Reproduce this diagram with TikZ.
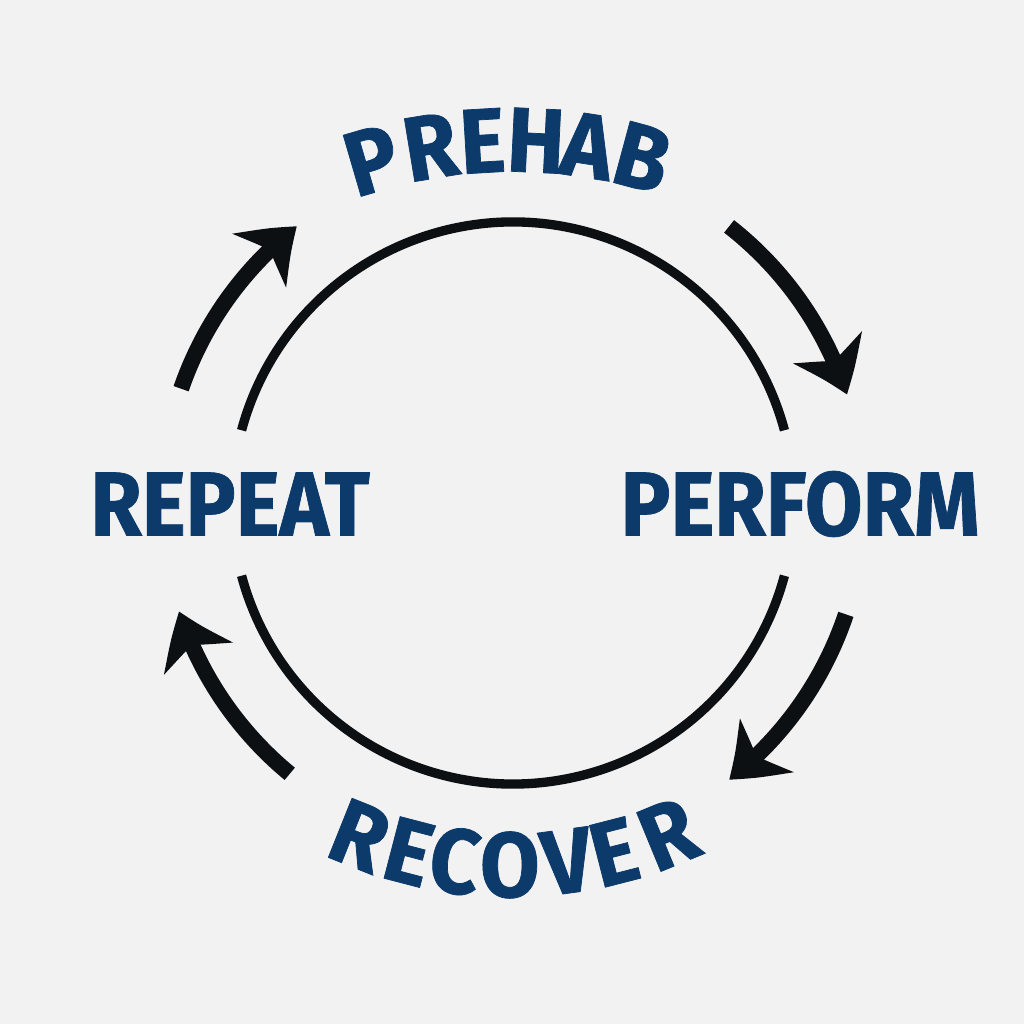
\documentclass[tikz,border=0pt]{standalone}
\usepackage{fontspec}
\newfontfamily\labfont{Fira Sans}[FakeStretch=0.92,FakeBold=0.8]
\newfontfamily\arcfont{Fira Sans}[FakeStretch=0.94,FakeBold=0.8]
\usetikzlibrary{arrows.meta,bending}
\definecolor{bg}{HTML}{F2F2F2}
\definecolor{navy}{HTML}{0B3A6B}
\definecolor{ink}{HTML}{0C1013}
\begin{document}
\begin{tikzpicture}[x=0.75pt,y=0.75pt,
  lab/.style={text=navy,font=\labfont\bfseries\fontsize{68}{70}\selectfont,inner sep=0pt},
  arclab/.style={text=navy,font=\arcfont\bfseries\fontsize{69}{72}\selectfont,inner sep=0pt},
  ring/.style={draw=ink,line width=7pt},
  cyc/.style={draw=ink,line width=12pt,-{Stealth[length=38pt,width=56pt,inset=11pt,bend]}}]
\fill[bg] (0,0) rectangle (1024,1024);
\useasboundingbox (0,0) rectangle (1024,1024);
\coordinate (c) at (513,521);
% ring
\coordinate (r1) at ([shift={(15:281)}]c);
\coordinate (r2) at ([shift={(195:281)}]c);
\draw[ring] (r1) arc[start angle=15,end angle=165,radius=281];
\draw[ring] (r2) arc[start angle=195,end angle=345,radius=281];
% cycle arrows
\coordinate (a1) at ([shift={(161:351)}]c);
\coordinate (a2) at ([shift={(52:351)}]c);
\coordinate (a3) at ([shift={(-18.5:351)}]c);
\coordinate (a4) at ([shift={(-129.5:351)}]c);
\draw[cyc] (a1) arc[start angle=161,end angle=128,radius=351];
\draw[cyc] (a2) arc[start angle=52,end angle=18,radius=351];
\draw[cyc] (a3) arc[start angle=-18.5,end angle=-52,radius=351];
\draw[cyc] (a4) arc[start angle=-129.5,end angle=-162,radius=351];
% side labels
\node[lab] (repeat) at (230,520) {REPEAT};
\node[lab] (perform) at (800,520) {PERFORM};
% curved labels
\coordinate (pc) at (512,384);
\foreach \l/\r [count=\i] in {P/16.3,R/9.4,E/3.4,H/-2.75,A/-8.7,B/-15.1}
  \node[arclab,rotate=\r] (pre\i) at ([shift={({90+\r}:500)}]pc) {\l};
\coordinate (rc) at (512,569);
\foreach \l/\r [count=\i] in {R/-21.8,E/-14.6,C/-8.0,O/-0.3,V/7.7,E/14.4,R/22.4}
  \node[arclab,rotate=\r] (rec\i) at ([shift={({270+\r}:410)}]rc) {\l};
\end{tikzpicture}
\end{document}
